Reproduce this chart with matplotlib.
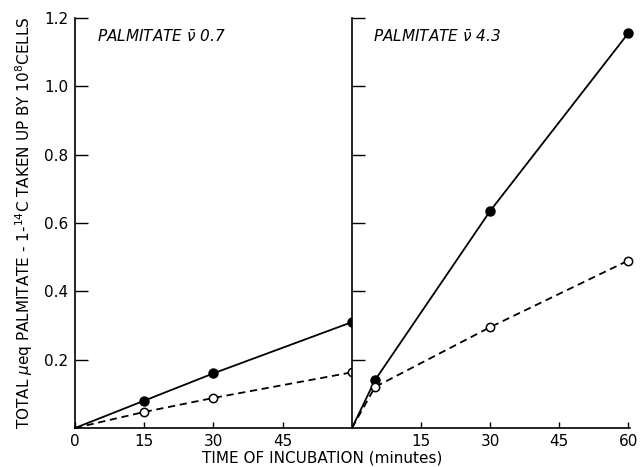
import matplotlib
matplotlib.use("Agg")
import matplotlib.pyplot as plt

# minutes of incubation
time_low = [0, 15, 30, 60]
time_high = [0, 5, 30, 60]

# total ueq palmitate taken up by 10^8 cells
low_filled = [0, 0.08, 0.16, 0.31]
low_open = [0, 0.047, 0.088, 0.163]
high_filled = [0, 0.14, 0.635, 1.155]
high_open = [0, 0.12, 0.295, 0.49]

panel_titles = [r"PALMITATE $\bar{\nu}$ 0.7", r"PALMITATE $\bar{\nu}$ 4.3"]
yticks = [0.2, 0.4, 0.6, 0.8, 1.0, 1.2]

plt.rcParams["font.family"] = ["DejaVu Sans"]
plt.rcParams["mathtext.fontset"] = "dejavusans"

fig = plt.figure(figsize=(6.42, 4.67), dpi=100)
ax1 = fig.add_axes([75 / 642, 39 / 467, 277 / 642, 410 / 467])
ax2 = fig.add_axes([352 / 642, 39 / 467, 278 / 642, 410 / 467], sharey=ax1)

for ax, t, filled, hollow, title in [
    (ax1, time_low, low_filled, low_open, panel_titles[0]),
    (ax2, time_high, high_filled, high_open, panel_titles[1]),
]:
    # no marker at the origin
    ax.plot(t, filled, color="black", linewidth=1.3, marker="o",
            markersize=6.5, markerfacecolor="black", markevery=[1, 2, 3],
            clip_on=False, zorder=3)
    ax.plot(t, hollow, color="black", linewidth=1.3, linestyle=(0, (4, 2.6)),
            marker="o", markersize=6, markerfacecolor="white",
            markeredgewidth=1.1, markevery=[1, 2, 3], clip_on=False, zorder=3)
    ax.spines["top"].set_visible(False)
    ax.spines["right"].set_visible(False)
    ax.spines["left"].set_linewidth(1.2)
    ax.spines["bottom"].set_linewidth(1.2)
    ax.tick_params(axis="y", direction="in", length=9, width=1.0, pad=5,
                   labelsize=11)
    ax.tick_params(axis="x", direction="in", length=4, width=1.0, pad=4,
                   labelsize=11)
    ax.text(0.08 if ax is ax1 else 0.075, 0.955, title, transform=ax.transAxes,
            fontsize=11, fontstyle="italic", ha="left", va="center")

ax1.set_xlim(0, 60)
ax2.set_xlim(0, 60.4)
ax1.set_ylim(0, 1.2)
ax1.set_yticks(yticks)
ax1.set_yticklabels([f"{v:.1f}" for v in yticks])
ax1.set_xticks([0, 15, 30, 45])
ax2.set_xticks([15, 30, 45, 60])
ax2.tick_params(axis="y", labelleft=False)

ax1.set_ylabel(r"TOTAL $\mu$eq PALMITATE - 1-$^{14}$C TAKEN UP BY 10$^{8}$CELLS",
               fontsize=11, labelpad=6)
fig.text(322 / 642, 9 / 467, "TIME OF INCUBATION (minutes)", fontsize=11,
         ha="center", va="center")

fig.savefig("out.png", dpi=100, facecolor="white")
